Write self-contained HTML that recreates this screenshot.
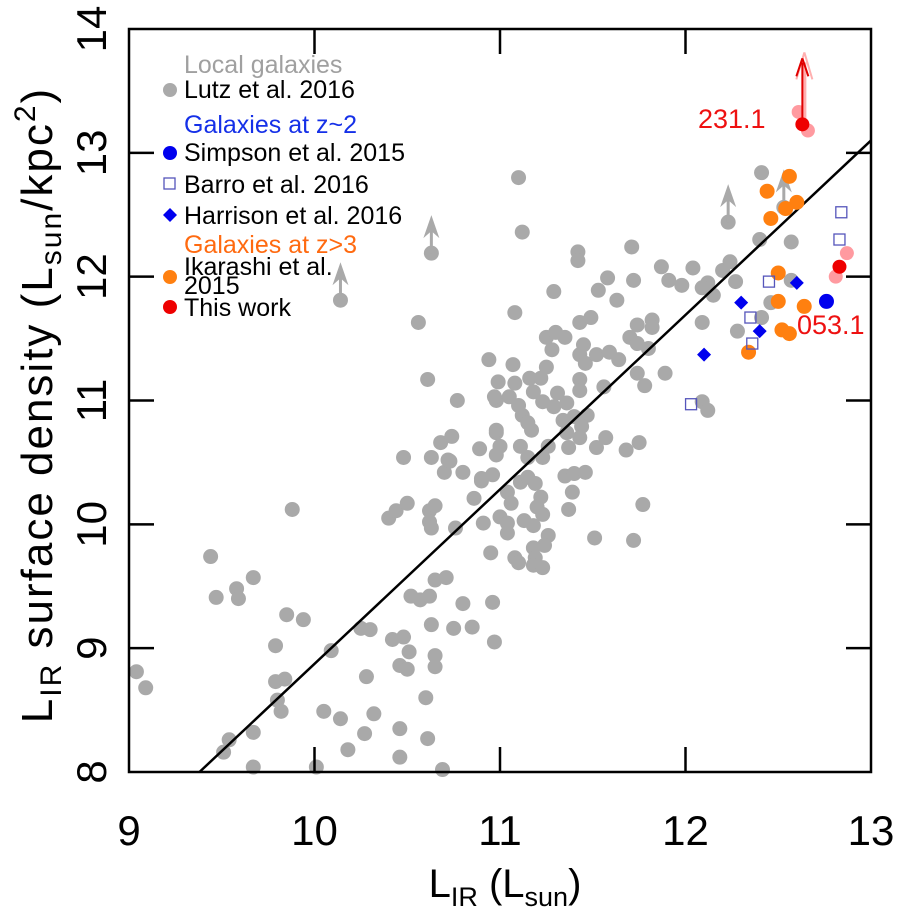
<!DOCTYPE html>
<html><head><meta charset="utf-8"><style>
body{margin:0;background:#fff;}
svg text{font-family:"Liberation Sans",sans-serif;}
</style></head><body>
<svg id="chart" width="900" height="916" viewBox="0 0 900 916" xmlns="http://www.w3.org/2000/svg">
<g id="marks"></g>
<g id="axes"></g>
<g font-size="25">
<text x="184" y="73" fill="#a0a0a0">Local galaxies</text>
<circle cx="170" cy="90" r="7" fill="#aaa"/>
<text x="184" y="98" fill="#000">Lutz et al. 2016</text>
<text x="184" y="133" fill="#1530e8">Galaxies at z~2</text>
<circle cx="170" cy="153" r="7" fill="#0000ee"/>
<text x="184" y="161">Simpson et al. 2015</text>
<rect x="164" y="178" width="11" height="11" fill="none" stroke="#5555bb" stroke-width="1.3"/>
<text x="184" y="193">Barro et al. 2016</text>
<path d="M170 208 L177 215 L170 222 L163 215Z" fill="#0000ee"/>
<text x="184" y="224">Harrison et al. 2016</text>
<text x="184" y="253" fill="#ff6a10">Galaxies at z&gt;3</text>
<circle cx="170" cy="277" r="7" fill="#ff8010"/>
<text x="184" y="275">Ikarashi et al.</text>
<text x="184" y="294">2015</text>
<circle cx="170" cy="307" r="7" fill="#ee0000"/>
<text x="184" y="316">This work</text>
</g>
<text x="698" y="128" fill="#ee1111" font-size="27">231.1</text>
<text x="797" y="334" fill="#ee1111" font-size="27">053.1</text>
<text x="505" y="897" text-anchor="middle" font-size="40">L<tspan font-size="27" dy="9">IR</tspan><tspan dy="-9"> (L</tspan><tspan font-size="27" dy="9">sun</tspan><tspan dy="-9">)</tspan></text>
<text transform="translate(52,405) rotate(-90)" text-anchor="middle" font-size="44" letter-spacing="2">L<tspan font-size="30" dy="9">IR</tspan><tspan dy="-9"> surface density (L</tspan><tspan font-size="30" dy="9">sun</tspan><tspan dy="-9">/kpc</tspan><tspan font-size="30" dy="-17">2</tspan><tspan dy="17">)</tspan></text>
</svg>
<script>
const xTicks=[9,10,11,12,13];
const yTicks=[8,9,10,11,12,13,14];
const lutzX=[9.04,9.09,9.44,9.47,9.58,9.59,9.67,9.88,9.85,9.94,9.79,9.79,9.84,9.80,9.82,9.67,9.54,9.51,9.67,10.01,10.09,10.05,10.14,10.18,10.27,10.32,10.28,10.25,10.30,10.42,10.48,10.51,10.46,10.50,10.60,10.46,10.61,10.46,10.69,10.65,10.65,10.63,10.75,10.85,10.97,10.52,10.57,10.62,10.65,10.71,10.80,10.96,10.76,10.91,10.95,10.40,10.44,10.50,10.62,10.65,10.62,10.63,10.86,10.90,10.96,10.80,10.70,10.73,10.63,10.48,10.68,10.74,10.89,10.98,10.98,10.77,10.98,
11.12,11.42,11.42,11.71,11.58,11.53,11.72,11.63,11.87,11.91,11.98,12.04,11.29,11.08,10.56,11.43,11.49,11.74,11.82,11.82,11.25,11.30,11.35,11.28,11.45,11.43,11.46,11.52,11.59,11.64,11.70,11.74,11.80,11.74,11.78,11.89,10.94,11.07,11.25,10.61,10.99,11.08,11.16,11.22,11.18,11.43,11.43,11.56,10.97,11.05,11.10,11.12,11.15,11.17,11.23,11.31,11.29,11.36,11.34,11.40,11.47,11.44,11.43,11.36,11.37,11.57,11.52,11.68,11.75,10.98,11.26,11.23,11.15,11.11,10.72,11.00,10.90,11.11,11.15,11.19,11.04,11.06,11.22,11.20,11.23,11.35,11.40,11.46,11.39,11.37,11.00,11.04,11.04,11.13,11.18,11.26,11.24,11.18,11.19,11.18,11.23,11.08,11.10,11.51,11.72,11.77,
12.41,12.40,12.57,12.12,12.09,12.15,12.20,12.24,12.27,12.57,12.46,12.41,12.09,12.28,12.09,12.12,11.10];
const lutzY=[8.81,8.68,9.74,9.41,9.48,9.40,9.57,10.12,9.27,9.23,9.02,8.73,8.75,8.58,8.49,8.32,8.26,8.16,8.04,8.04,8.98,8.49,8.43,8.18,8.31,8.47,8.77,9.16,9.15,9.07,9.09,8.97,8.86,8.83,8.60,8.35,8.27,8.12,8.02,8.94,8.85,9.19,9.16,9.17,9.05,9.42,9.39,9.42,9.55,9.57,9.36,9.37,9.97,10.01,9.77,10.05,10.11,10.17,10.11,10.15,10.02,9.97,10.21,10.35,10.40,10.42,10.42,10.51,10.54,10.54,10.66,10.71,10.61,10.56,10.74,11.00,11.00,
12.36,12.20,12.13,12.24,11.99,11.89,11.97,11.81,12.08,11.97,11.93,12.07,11.88,11.71,11.63,11.63,11.67,11.61,11.65,11.59,11.51,11.55,11.51,11.41,11.45,11.37,11.30,11.37,11.39,11.33,11.51,11.46,11.42,11.22,11.12,11.22,11.33,11.29,11.27,11.17,11.15,11.14,11.18,11.18,11.07,11.17,11.08,11.11,11.03,11.03,10.96,10.88,10.82,10.76,10.99,11.06,10.95,10.98,10.84,10.87,10.88,10.79,10.70,10.74,10.62,10.70,10.62,10.60,10.66,10.76,10.63,10.54,10.54,10.63,10.52,10.63,10.37,10.34,10.38,10.33,10.26,10.17,10.22,10.14,10.08,10.39,10.41,10.42,10.26,10.12,10.06,10.01,9.93,10.03,9.99,9.91,9.83,9.81,9.73,9.67,9.65,9.73,9.69,9.89,9.87,10.16,
12.84,12.30,12.28,11.95,11.91,11.85,12.05,12.12,11.96,11.97,11.79,11.67,11.63,11.56,10.99,10.92,12.80];
const limX=[10.14,10.63,12.23,12.53];
const limY=[11.81,12.19,12.44,12.56];
const ikaX=[12.56,12.44,12.60,12.54,12.46,12.50,12.50,12.64,12.52,12.56,12.34];
const ikaY=[12.81,12.69,12.60,12.55,12.47,12.03,11.80,11.76,11.57,11.54,11.39];
const harX=[12.60,12.30,12.40,12.10];
const harY=[11.95,11.79,11.56,11.37];
const simX=[12.76];
const simY=[11.80];
const barX=[12.84,12.83,12.45,12.35,12.36,12.03];
const barY=[12.52,12.30,11.96,11.67,11.46,10.97];
const twPinkX=[12.61,12.66,12.87,12.81];
const twPinkY=[13.33,13.18,12.19,12.00];
const twX=[12.63,12.83];
const twY=[13.23,12.08];
const fitX=[9.38,13.0];
const fitY=[8.0,13.1];

const X0=129,X1=871,Y0=772,Y1=29;
function sx(v){return X0+(v-9)/4*(X1-X0);}
function sy(v){return Y0-(v-8)/6*(Y0-Y1);}
const NS="http://www.w3.org/2000/svg";
const marks=document.getElementById('marks');
const axes=document.getElementById('axes');
function mk(tag,attrs,parent){const e=document.createElementNS(NS,tag);for(const k in attrs)e.setAttribute(k,attrs[k]);parent.appendChild(e);return e;}

lutzX.forEach((x,i)=>{
  const c=mk('circle',{cx:sx(x),cy:sy(lutzY[i]),r:7.5,fill:'#a9a9a9'},marks);
  
  
});
limX.forEach((x,i)=>{
  const g=mk('g',{},marks);
  
  
  const cx=sx(x),cy=sy(limY[i]);
  mk('circle',{cx:cx,cy:cy,r:7.5,fill:'#a9a9a9'},g);
  mk('line',{x1:cx,y1:cy,x2:cx,y2:cy-30,stroke:'#a9a9a9','stroke-width':3},g);
  mk('path',{d:`M${cx} ${cy-38} L${cx+8} ${cy-15} L${cx} ${cy-22} L${cx-8} ${cy-15}Z`,fill:'#a9a9a9'},g);
});
const line=mk('line',{x1:sx(fitX[0]),y1:sy(fitY[0]),x2:sx(fitX[1]),y2:sy(fitY[1]),stroke:'#000','stroke-width':2.5},marks);


ikaX.forEach((x,i)=>{
  const c=mk('circle',{cx:sx(x),cy:sy(ikaY[i]),r:7.5,fill:'#ff8010'},marks);
  
  
});
harX.forEach((x,i)=>{
  const cx=sx(x),cy=sy(harY[i]);
  const p=mk('path',{d:`M${cx} ${cy-7} L${cx+7} ${cy} L${cx} ${cy+7} L${cx-7} ${cy}Z`,fill:'#0000ee'},marks);
  
  
});
simX.forEach((x,i)=>{
  const c=mk('circle',{cx:sx(x),cy:sy(simY[i]),r:7.5,fill:'#0000ee'},marks);
  
  
});
barX.forEach((x,i)=>{
  const r=mk('rect',{x:sx(x)-5.5,y:sy(barY[i])-5.5,width:11,height:11,fill:'none',stroke:'#5555bb','stroke-width':1.3},marks);
  
  
});
twPinkX.forEach((x,i)=>{
  const c=mk('circle',{cx:sx(x),cy:sy(twPinkY[i]),r:7,fill:'#ff9aa0'},marks);
  
  
});
{
  const cx=sx(twX[0]),cy=sy(twY[0]);
  const g=mk('g',{},marks);
  
  
  mk('line',{x1:cx+2,y1:cy,x2:cx+2,y2:cy-62,stroke:'#ffb0b0','stroke-width':4},g);
  mk('path',{d:`M${cx+2} ${cy-72} L${cx+10} ${cy-45} M${cx+2} ${cy-72} L${cx-6} ${cy-45}`,stroke:'#ffb0b0','stroke-width':2,fill:'none'},g);
  mk('line',{x1:cx,y1:cy,x2:cx,y2:cy-62,stroke:'#e00000','stroke-width':2},g);
  mk('path',{d:`M${cx} ${cy-66} L${cx+6} ${cy-48} M${cx} ${cy-66} L${cx-6} ${cy-48}`,stroke:'#e00000','stroke-width':2,fill:'none'},g);
}
twX.forEach((x,i)=>{
  const c=mk('circle',{cx:sx(x),cy:sy(twY[i]),r:7,fill:'#ee0000'},marks);
  
  
});

const frame=mk('rect',{x:X0,y:Y1,width:X1-X0,height:Y0-Y1,fill:'none',stroke:'#000','stroke-width':2.5},axes);


xTicks.forEach(v=>{
  const x=sx(v);
  if(v>9&&v<13){mk('line',{x1:x,y1:Y0,x2:x,y2:Y0-25,stroke:'#000','stroke-width':2.5},axes);
  mk('line',{x1:x,y1:Y1,x2:x,y2:Y1+25,stroke:'#000','stroke-width':2.5},axes);}
  const t=mk('text',{x:x,y:845,'text-anchor':'middle','font-size':42},axes);
  t.textContent=v;
  
  
});
yTicks.forEach(v=>{
  const y=sy(v);
  if(v>8&&v<14){mk('line',{x1:X0,y1:y,x2:X0+25,y2:y,stroke:'#000','stroke-width':2.5},axes);
  mk('line',{x1:X1,y1:y,x2:X1-25,y2:y,stroke:'#000','stroke-width':2.5},axes);}
  const t=mk('text',{transform:`translate(106,${y}) rotate(-90)`,'text-anchor':'middle','font-size':42},axes);
  t.textContent=v;
  
  
});
</script>
</body></html>
